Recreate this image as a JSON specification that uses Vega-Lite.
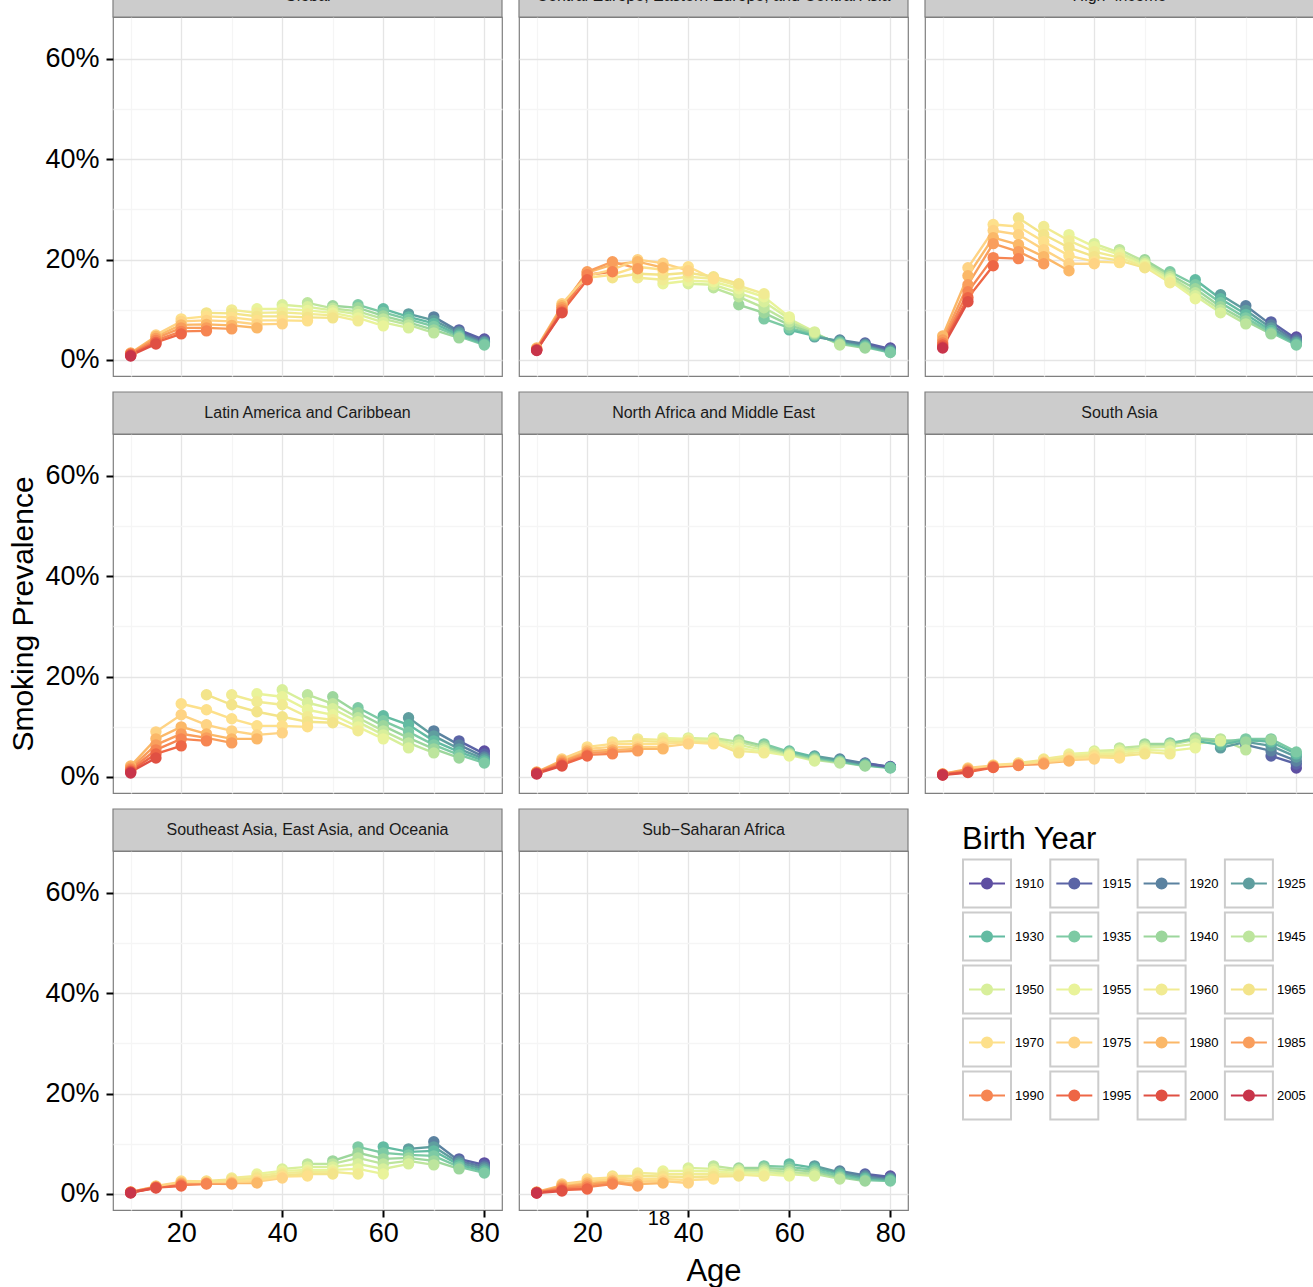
{
"$schema": "https://vega.github.io/schema/vega-lite/v6.json",
"padding": {"left": 8, "top": -27, "right": 0, "bottom": 0},
"background": "white",
"config": {
 "font": "Liberation Sans",
 "view": {"stroke": "#7f7f7f", "strokeWidth": 1.2},
 "axis": {"domain": false, "grid": true, "gridWidth": 1.3, "labelFontSize": 27, "labelColor": "#000", "labelFont": "Liberation Sans", "tickSize": 7, "tickWidth": 2, "titleFontWeight": "normal", "titleColor": "#000", "titleFont": "Liberation Sans", "labelFlush": false, "labelOverlap": false},
 "axisX": {"labelPadding": 3, "titleFontSize": 31, "titlePadding": 10},
 "axisY": {"labelPadding": 7, "titleFontSize": 30, "titlePadding": 6}
},
"data": {"values": [
{"r":1,"b":1980,"a":10,"p":1.4},{"r":1,"b":1985,"a":10,"p":1.3},{"r":1,"b":1990,"a":10,"p":1.2},{"r":1,"b":1995,"a":10,"p":1.1},{"r":1,"b":2000,"a":10,"p":0.9},{"r":1,"b":2005,"a":10,"p":0.8},
{"r":1,"b":1975,"a":15,"p":5.0},{"r":1,"b":1980,"a":15,"p":4.7},{"r":1,"b":1985,"a":15,"p":4.3},{"r":1,"b":1990,"a":15,"p":3.9},{"r":1,"b":1995,"a":15,"p":3.5},{"r":1,"b":2000,"a":15,"p":3.2},
{"r":1,"b":1970,"a":20,"p":8.2},{"r":1,"b":1975,"a":20,"p":7.7},{"r":1,"b":1980,"a":20,"p":7.0},{"r":1,"b":1985,"a":20,"p":6.4},{"r":1,"b":1990,"a":20,"p":5.7},{"r":1,"b":1995,"a":20,"p":5.2},
{"r":1,"b":1965,"a":25,"p":9.4},{"r":1,"b":1970,"a":25,"p":8.7},{"r":1,"b":1975,"a":25,"p":7.9},{"r":1,"b":1980,"a":25,"p":7.1},{"r":1,"b":1985,"a":25,"p":6.4},{"r":1,"b":1990,"a":25,"p":5.8},
{"r":1,"b":1960,"a":30,"p":10.0},{"r":1,"b":1965,"a":30,"p":9.3},{"r":1,"b":1970,"a":30,"p":8.5},{"r":1,"b":1975,"a":30,"p":7.7},{"r":1,"b":1980,"a":30,"p":6.9},{"r":1,"b":1985,"a":30,"p":6.2},
{"r":1,"b":1955,"a":35,"p":10.2},{"r":1,"b":1960,"a":35,"p":9.4},{"r":1,"b":1965,"a":35,"p":8.7},{"r":1,"b":1970,"a":35,"p":7.9},{"r":1,"b":1975,"a":35,"p":7.1},{"r":1,"b":1980,"a":35,"p":6.4},
{"r":1,"b":1950,"a":40,"p":11.0},{"r":1,"b":1955,"a":40,"p":10.2},{"r":1,"b":1960,"a":40,"p":9.5},{"r":1,"b":1965,"a":40,"p":8.7},{"r":1,"b":1970,"a":40,"p":7.9},{"r":1,"b":1975,"a":40,"p":7.2},
{"r":1,"b":1945,"a":45,"p":11.4},{"r":1,"b":1950,"a":45,"p":10.6},{"r":1,"b":1955,"a":45,"p":9.9},{"r":1,"b":1960,"a":45,"p":9.2},{"r":1,"b":1965,"a":45,"p":8.5},{"r":1,"b":1970,"a":45,"p":7.8},
{"r":1,"b":1940,"a":50,"p":10.8},{"r":1,"b":1945,"a":50,"p":10.3},{"r":1,"b":1950,"a":50,"p":9.9},{"r":1,"b":1955,"a":50,"p":9.4},{"r":1,"b":1960,"a":50,"p":8.9},{"r":1,"b":1965,"a":50,"p":8.4},
{"r":1,"b":1935,"a":55,"p":11.0},{"r":1,"b":1940,"a":55,"p":10.4},{"r":1,"b":1945,"a":55,"p":9.7},{"r":1,"b":1950,"a":55,"p":9.1},{"r":1,"b":1955,"a":55,"p":8.4},{"r":1,"b":1960,"a":55,"p":7.8},
{"r":1,"b":1930,"a":60,"p":10.2},{"r":1,"b":1935,"a":60,"p":9.5},{"r":1,"b":1940,"a":60,"p":8.8},{"r":1,"b":1945,"a":60,"p":8.2},{"r":1,"b":1950,"a":60,"p":7.5},{"r":1,"b":1955,"a":60,"p":6.8},
{"r":1,"b":1925,"a":65,"p":9.2},{"r":1,"b":1930,"a":65,"p":8.6},{"r":1,"b":1935,"a":65,"p":8.1},{"r":1,"b":1940,"a":65,"p":7.5},{"r":1,"b":1945,"a":65,"p":7.0},{"r":1,"b":1950,"a":65,"p":6.4},
{"r":1,"b":1920,"a":70,"p":8.6},{"r":1,"b":1925,"a":70,"p":7.9},{"r":1,"b":1930,"a":70,"p":7.3},{"r":1,"b":1935,"a":70,"p":6.7},{"r":1,"b":1940,"a":70,"p":6.0},{"r":1,"b":1945,"a":70,"p":5.4},
{"r":1,"b":1915,"a":75,"p":6.0},{"r":1,"b":1920,"a":75,"p":5.7},{"r":1,"b":1925,"a":75,"p":5.4},{"r":1,"b":1930,"a":75,"p":5.0},{"r":1,"b":1935,"a":75,"p":4.7},{"r":1,"b":1940,"a":75,"p":4.4},
{"r":1,"b":1910,"a":80,"p":4.2},{"r":1,"b":1915,"a":80,"p":4.0},{"r":1,"b":1920,"a":80,"p":3.7},{"r":1,"b":1925,"a":80,"p":3.5},{"r":1,"b":1930,"a":80,"p":3.2},{"r":1,"b":1935,"a":80,"p":3.0},
{"r":2,"b":1980,"a":10,"p":2.4},{"r":2,"b":1985,"a":10,"p":2.2},{"r":2,"b":1990,"a":10,"p":2.1},{"r":2,"b":1995,"a":10,"p":2.0},{"r":2,"b":2000,"a":10,"p":2.0},{"r":2,"b":2005,"a":10,"p":1.9},
{"r":2,"b":1975,"a":15,"p":11.2},{"r":2,"b":1980,"a":15,"p":10.8},{"r":2,"b":1985,"a":15,"p":10.4},{"r":2,"b":1990,"a":15,"p":10.0},{"r":2,"b":1995,"a":15,"p":9.6},{"r":2,"b":2000,"a":15,"p":9.4},
{"r":2,"b":1970,"a":20,"p":16.4},{"r":2,"b":1975,"a":20,"p":16.8},{"r":2,"b":1980,"a":20,"p":17.4},{"r":2,"b":1985,"a":20,"p":17.6},{"r":2,"b":1990,"a":20,"p":17.0},{"r":2,"b":1995,"a":20,"p":16.0},
{"r":2,"b":1965,"a":25,"p":16.4},{"r":2,"b":1970,"a":25,"p":17.0},{"r":2,"b":1975,"a":25,"p":18.0},{"r":2,"b":1980,"a":25,"p":19.0},{"r":2,"b":1985,"a":25,"p":19.6},{"r":2,"b":1990,"a":25,"p":17.6},
{"r":2,"b":1960,"a":30,"p":16.4},{"r":2,"b":1965,"a":30,"p":17.2},{"r":2,"b":1970,"a":30,"p":18.6},{"r":2,"b":1975,"a":30,"p":20.0},{"r":2,"b":1980,"a":30,"p":19.6},{"r":2,"b":1985,"a":30,"p":18.2},
{"r":2,"b":1955,"a":35,"p":15.2},{"r":2,"b":1960,"a":35,"p":16.0},{"r":2,"b":1965,"a":35,"p":17.0},{"r":2,"b":1970,"a":35,"p":18.0},{"r":2,"b":1975,"a":35,"p":19.3},{"r":2,"b":1980,"a":35,"p":18.4},
{"r":2,"b":1950,"a":40,"p":15.2},{"r":2,"b":1955,"a":40,"p":15.8},{"r":2,"b":1960,"a":40,"p":16.6},{"r":2,"b":1965,"a":40,"p":17.4},{"r":2,"b":1970,"a":40,"p":18.6},{"r":2,"b":1975,"a":40,"p":17.8},
{"r":2,"b":1945,"a":45,"p":14.4},{"r":2,"b":1950,"a":45,"p":15.0},{"r":2,"b":1955,"a":45,"p":15.6},{"r":2,"b":1960,"a":45,"p":16.2},{"r":2,"b":1965,"a":45,"p":16.6},{"r":2,"b":1970,"a":45,"p":16.2},
{"r":2,"b":1940,"a":50,"p":11.0},{"r":2,"b":1945,"a":50,"p":12.6},{"r":2,"b":1950,"a":50,"p":13.4},{"r":2,"b":1955,"a":50,"p":14.2},{"r":2,"b":1960,"a":50,"p":14.8},{"r":2,"b":1965,"a":50,"p":15.2},
{"r":2,"b":1935,"a":55,"p":8.2},{"r":2,"b":1940,"a":55,"p":9.4},{"r":2,"b":1945,"a":55,"p":10.4},{"r":2,"b":1950,"a":55,"p":11.6},{"r":2,"b":1955,"a":55,"p":12.6},{"r":2,"b":1960,"a":55,"p":13.2},
{"r":2,"b":1930,"a":60,"p":6.0},{"r":2,"b":1935,"a":60,"p":6.4},{"r":2,"b":1940,"a":60,"p":7.0},{"r":2,"b":1945,"a":60,"p":7.6},{"r":2,"b":1950,"a":60,"p":8.2},{"r":2,"b":1955,"a":60,"p":8.6},
{"r":2,"b":1925,"a":65,"p":4.6},{"r":2,"b":1930,"a":65,"p":4.8},{"r":2,"b":1935,"a":65,"p":5.0},{"r":2,"b":1940,"a":65,"p":5.2},{"r":2,"b":1945,"a":65,"p":5.4},{"r":2,"b":1950,"a":65,"p":5.6},
{"r":2,"b":1920,"a":70,"p":4.0},{"r":2,"b":1925,"a":70,"p":3.8},{"r":2,"b":1930,"a":70,"p":3.6},{"r":2,"b":1935,"a":70,"p":3.4},{"r":2,"b":1940,"a":70,"p":3.2},{"r":2,"b":1945,"a":70,"p":3.0},
{"r":2,"b":1915,"a":75,"p":3.4},{"r":2,"b":1920,"a":75,"p":3.2},{"r":2,"b":1925,"a":75,"p":3.0},{"r":2,"b":1930,"a":75,"p":2.8},{"r":2,"b":1935,"a":75,"p":2.6},{"r":2,"b":1940,"a":75,"p":2.4},
{"r":2,"b":1910,"a":80,"p":2.4},{"r":2,"b":1915,"a":80,"p":2.2},{"r":2,"b":1920,"a":80,"p":2.0},{"r":2,"b":1925,"a":80,"p":1.8},{"r":2,"b":1930,"a":80,"p":1.6},{"r":2,"b":1935,"a":80,"p":1.5},
{"r":3,"b":1980,"a":10,"p":4.8},{"r":3,"b":1985,"a":10,"p":4.0},{"r":3,"b":1990,"a":10,"p":3.4},{"r":3,"b":1995,"a":10,"p":3.0},{"r":3,"b":2000,"a":10,"p":2.6},{"r":3,"b":2005,"a":10,"p":2.4},
{"r":3,"b":1975,"a":15,"p":18.4},{"r":3,"b":1980,"a":15,"p":16.8},{"r":3,"b":1985,"a":15,"p":15.0},{"r":3,"b":1990,"a":15,"p":13.6},{"r":3,"b":1995,"a":15,"p":12.4},{"r":3,"b":2000,"a":15,"p":11.6},
{"r":3,"b":1970,"a":20,"p":27.0},{"r":3,"b":1975,"a":20,"p":25.8},{"r":3,"b":1980,"a":20,"p":24.4},{"r":3,"b":1985,"a":20,"p":23.2},{"r":3,"b":1990,"a":20,"p":20.4},{"r":3,"b":1995,"a":20,"p":18.8},
{"r":3,"b":1965,"a":25,"p":28.3},{"r":3,"b":1970,"a":25,"p":26.6},{"r":3,"b":1975,"a":25,"p":25.0},{"r":3,"b":1980,"a":25,"p":23.0},{"r":3,"b":1985,"a":25,"p":21.6},{"r":3,"b":1990,"a":25,"p":20.2},
{"r":3,"b":1960,"a":30,"p":26.6},{"r":3,"b":1965,"a":30,"p":25.0},{"r":3,"b":1970,"a":30,"p":23.6},{"r":3,"b":1975,"a":30,"p":22.0},{"r":3,"b":1980,"a":30,"p":20.6},{"r":3,"b":1985,"a":30,"p":19.2},
{"r":3,"b":1955,"a":35,"p":25.0},{"r":3,"b":1960,"a":35,"p":23.8},{"r":3,"b":1965,"a":35,"p":22.4},{"r":3,"b":1970,"a":35,"p":20.8},{"r":3,"b":1975,"a":35,"p":19.2},{"r":3,"b":1980,"a":35,"p":17.8},
{"r":3,"b":1950,"a":40,"p":23.2},{"r":3,"b":1955,"a":40,"p":22.6},{"r":3,"b":1960,"a":40,"p":21.6},{"r":3,"b":1965,"a":40,"p":20.6},{"r":3,"b":1970,"a":40,"p":19.6},{"r":3,"b":1975,"a":40,"p":19.2},
{"r":3,"b":1945,"a":45,"p":22.0},{"r":3,"b":1950,"a":45,"p":21.4},{"r":3,"b":1955,"a":45,"p":21.0},{"r":3,"b":1960,"a":45,"p":20.4},{"r":3,"b":1965,"a":45,"p":19.8},{"r":3,"b":1970,"a":45,"p":19.4},
{"r":3,"b":1940,"a":50,"p":20.0},{"r":3,"b":1945,"a":50,"p":19.6},{"r":3,"b":1950,"a":50,"p":19.2},{"r":3,"b":1955,"a":50,"p":18.9},{"r":3,"b":1960,"a":50,"p":18.6},{"r":3,"b":1965,"a":50,"p":18.4},
{"r":3,"b":1935,"a":55,"p":17.6},{"r":3,"b":1940,"a":55,"p":17.0},{"r":3,"b":1945,"a":55,"p":16.6},{"r":3,"b":1950,"a":55,"p":16.2},{"r":3,"b":1955,"a":55,"p":15.8},{"r":3,"b":1960,"a":55,"p":15.4},
{"r":3,"b":1930,"a":60,"p":16.0},{"r":3,"b":1935,"a":60,"p":15.0},{"r":3,"b":1940,"a":60,"p":14.2},{"r":3,"b":1945,"a":60,"p":13.4},{"r":3,"b":1950,"a":60,"p":12.8},{"r":3,"b":1955,"a":60,"p":12.2},
{"r":3,"b":1925,"a":65,"p":13.0},{"r":3,"b":1930,"a":65,"p":12.2},{"r":3,"b":1935,"a":65,"p":11.4},{"r":3,"b":1940,"a":65,"p":10.6},{"r":3,"b":1945,"a":65,"p":10.0},{"r":3,"b":1950,"a":65,"p":9.4},
{"r":3,"b":1920,"a":70,"p":10.8},{"r":3,"b":1925,"a":70,"p":9.9},{"r":3,"b":1930,"a":70,"p":9.1},{"r":3,"b":1935,"a":70,"p":8.4},{"r":3,"b":1940,"a":70,"p":7.8},{"r":3,"b":1945,"a":70,"p":7.2},
{"r":3,"b":1915,"a":75,"p":7.6},{"r":3,"b":1920,"a":75,"p":7.0},{"r":3,"b":1925,"a":75,"p":6.4},{"r":3,"b":1930,"a":75,"p":5.9},{"r":3,"b":1935,"a":75,"p":5.5},{"r":3,"b":1940,"a":75,"p":5.2},
{"r":3,"b":1910,"a":80,"p":4.6},{"r":3,"b":1915,"a":80,"p":4.2},{"r":3,"b":1920,"a":80,"p":3.8},{"r":3,"b":1925,"a":80,"p":3.5},{"r":3,"b":1930,"a":80,"p":3.2},{"r":3,"b":1935,"a":80,"p":3.0},
{"r":4,"b":1980,"a":10,"p":2.2},{"r":4,"b":1985,"a":10,"p":1.8},{"r":4,"b":1990,"a":10,"p":1.5},{"r":4,"b":1995,"a":10,"p":1.2},{"r":4,"b":2000,"a":10,"p":1.0},{"r":4,"b":2005,"a":10,"p":0.8},
{"r":4,"b":1975,"a":15,"p":9.0},{"r":4,"b":1980,"a":15,"p":7.6},{"r":4,"b":1985,"a":15,"p":6.4},{"r":4,"b":1990,"a":15,"p":5.4},{"r":4,"b":1995,"a":15,"p":4.6},{"r":4,"b":2000,"a":15,"p":3.8},
{"r":4,"b":1970,"a":20,"p":14.6},{"r":4,"b":1975,"a":20,"p":12.4},{"r":4,"b":1980,"a":20,"p":10.0},{"r":4,"b":1985,"a":20,"p":8.6},{"r":4,"b":1990,"a":20,"p":7.6},{"r":4,"b":1995,"a":20,"p":6.2},
{"r":4,"b":1965,"a":25,"p":16.4},{"r":4,"b":1970,"a":25,"p":13.4},{"r":4,"b":1975,"a":25,"p":10.4},{"r":4,"b":1980,"a":25,"p":8.6},{"r":4,"b":1985,"a":25,"p":7.8},{"r":4,"b":1990,"a":25,"p":7.2},
{"r":4,"b":1960,"a":30,"p":16.4},{"r":4,"b":1965,"a":30,"p":14.4},{"r":4,"b":1970,"a":30,"p":11.6},{"r":4,"b":1975,"a":30,"p":9.2},{"r":4,"b":1980,"a":30,"p":7.6},{"r":4,"b":1985,"a":30,"p":6.8},
{"r":4,"b":1955,"a":35,"p":16.6},{"r":4,"b":1960,"a":35,"p":15.0},{"r":4,"b":1965,"a":35,"p":13.0},{"r":4,"b":1970,"a":35,"p":10.2},{"r":4,"b":1975,"a":35,"p":8.4},{"r":4,"b":1980,"a":35,"p":7.6},
{"r":4,"b":1950,"a":40,"p":17.4},{"r":4,"b":1955,"a":40,"p":16.0},{"r":4,"b":1960,"a":40,"p":14.4},{"r":4,"b":1965,"a":40,"p":12.0},{"r":4,"b":1970,"a":40,"p":10.2},{"r":4,"b":1975,"a":40,"p":8.8},
{"r":4,"b":1945,"a":45,"p":16.4},{"r":4,"b":1950,"a":45,"p":14.8},{"r":4,"b":1955,"a":45,"p":13.4},{"r":4,"b":1960,"a":45,"p":12.0},{"r":4,"b":1965,"a":45,"p":11.0},{"r":4,"b":1970,"a":45,"p":10.0},
{"r":4,"b":1940,"a":50,"p":16.0},{"r":4,"b":1945,"a":50,"p":14.6},{"r":4,"b":1950,"a":50,"p":13.6},{"r":4,"b":1955,"a":50,"p":12.4},{"r":4,"b":1960,"a":50,"p":11.4},{"r":4,"b":1965,"a":50,"p":10.8},
{"r":4,"b":1935,"a":55,"p":13.8},{"r":4,"b":1940,"a":55,"p":12.8},{"r":4,"b":1945,"a":55,"p":11.8},{"r":4,"b":1950,"a":55,"p":11.0},{"r":4,"b":1955,"a":55,"p":10.0},{"r":4,"b":1960,"a":55,"p":9.2},
{"r":4,"b":1930,"a":60,"p":12.2},{"r":4,"b":1935,"a":60,"p":11.2},{"r":4,"b":1940,"a":60,"p":10.2},{"r":4,"b":1945,"a":60,"p":9.2},{"r":4,"b":1950,"a":60,"p":8.4},{"r":4,"b":1955,"a":60,"p":7.6},
{"r":4,"b":1925,"a":65,"p":11.8},{"r":4,"b":1930,"a":65,"p":10.4},{"r":4,"b":1935,"a":65,"p":9.0},{"r":4,"b":1940,"a":65,"p":7.8},{"r":4,"b":1945,"a":65,"p":6.8},{"r":4,"b":1950,"a":65,"p":5.8},
{"r":4,"b":1920,"a":70,"p":9.2},{"r":4,"b":1925,"a":70,"p":8.2},{"r":4,"b":1930,"a":70,"p":7.2},{"r":4,"b":1935,"a":70,"p":6.4},{"r":4,"b":1940,"a":70,"p":5.6},{"r":4,"b":1945,"a":70,"p":4.8},
{"r":4,"b":1915,"a":75,"p":7.2},{"r":4,"b":1920,"a":75,"p":6.4},{"r":4,"b":1925,"a":75,"p":5.6},{"r":4,"b":1930,"a":75,"p":5.0},{"r":4,"b":1935,"a":75,"p":4.4},{"r":4,"b":1940,"a":75,"p":3.8},
{"r":4,"b":1910,"a":80,"p":5.2},{"r":4,"b":1915,"a":80,"p":4.6},{"r":4,"b":1920,"a":80,"p":4.0},{"r":4,"b":1925,"a":80,"p":3.6},{"r":4,"b":1930,"a":80,"p":3.2},{"r":4,"b":1935,"a":80,"p":2.8},
{"r":5,"b":1980,"a":10,"p":1.0},{"r":5,"b":1985,"a":10,"p":0.9},{"r":5,"b":1990,"a":10,"p":0.8},{"r":5,"b":1995,"a":10,"p":0.8},{"r":5,"b":2000,"a":10,"p":0.7},{"r":5,"b":2005,"a":10,"p":0.6},
{"r":5,"b":1975,"a":15,"p":3.6},{"r":5,"b":1980,"a":15,"p":3.3},{"r":5,"b":1985,"a":15,"p":3.0},{"r":5,"b":1990,"a":15,"p":2.7},{"r":5,"b":1995,"a":15,"p":2.4},{"r":5,"b":2000,"a":15,"p":2.2},
{"r":5,"b":1970,"a":20,"p":6.0},{"r":5,"b":1975,"a":20,"p":5.6},{"r":5,"b":1980,"a":20,"p":5.2},{"r":5,"b":1985,"a":20,"p":4.8},{"r":5,"b":1990,"a":20,"p":4.4},{"r":5,"b":1995,"a":20,"p":4.2},
{"r":5,"b":1965,"a":25,"p":7.0},{"r":5,"b":1970,"a":25,"p":6.6},{"r":5,"b":1975,"a":25,"p":6.0},{"r":5,"b":1980,"a":25,"p":5.4},{"r":5,"b":1985,"a":25,"p":5.0},{"r":5,"b":1990,"a":25,"p":4.6},
{"r":5,"b":1960,"a":30,"p":7.6},{"r":5,"b":1965,"a":30,"p":7.2},{"r":5,"b":1970,"a":30,"p":6.6},{"r":5,"b":1975,"a":30,"p":6.0},{"r":5,"b":1980,"a":30,"p":5.6},{"r":5,"b":1985,"a":30,"p":5.2},
{"r":5,"b":1955,"a":35,"p":7.8},{"r":5,"b":1960,"a":35,"p":7.4},{"r":5,"b":1965,"a":35,"p":7.0},{"r":5,"b":1970,"a":35,"p":6.6},{"r":5,"b":1975,"a":35,"p":6.0},{"r":5,"b":1980,"a":35,"p":5.6},
{"r":5,"b":1950,"a":40,"p":7.8},{"r":5,"b":1955,"a":40,"p":7.6},{"r":5,"b":1960,"a":40,"p":7.4},{"r":5,"b":1965,"a":40,"p":7.2},{"r":5,"b":1970,"a":40,"p":6.9},{"r":5,"b":1975,"a":40,"p":6.6},
{"r":5,"b":1945,"a":45,"p":7.8},{"r":5,"b":1950,"a":45,"p":7.6},{"r":5,"b":1955,"a":45,"p":7.4},{"r":5,"b":1960,"a":45,"p":7.2},{"r":5,"b":1965,"a":45,"p":6.9},{"r":5,"b":1970,"a":45,"p":6.6},
{"r":5,"b":1940,"a":50,"p":7.4},{"r":5,"b":1945,"a":50,"p":7.0},{"r":5,"b":1950,"a":50,"p":6.4},{"r":5,"b":1955,"a":50,"p":5.8},{"r":5,"b":1960,"a":50,"p":5.2},{"r":5,"b":1965,"a":50,"p":4.8},
{"r":5,"b":1935,"a":55,"p":6.6},{"r":5,"b":1940,"a":55,"p":6.2},{"r":5,"b":1945,"a":55,"p":5.8},{"r":5,"b":1950,"a":55,"p":5.4},{"r":5,"b":1955,"a":55,"p":5.0},{"r":5,"b":1960,"a":55,"p":4.8},
{"r":5,"b":1930,"a":60,"p":5.2},{"r":5,"b":1935,"a":60,"p":5.0},{"r":5,"b":1940,"a":60,"p":4.8},{"r":5,"b":1945,"a":60,"p":4.6},{"r":5,"b":1950,"a":60,"p":4.4},{"r":5,"b":1955,"a":60,"p":4.2},
{"r":5,"b":1925,"a":65,"p":4.2},{"r":5,"b":1930,"a":65,"p":4.0},{"r":5,"b":1935,"a":65,"p":3.8},{"r":5,"b":1940,"a":65,"p":3.6},{"r":5,"b":1945,"a":65,"p":3.4},{"r":5,"b":1950,"a":65,"p":3.2},
{"r":5,"b":1920,"a":70,"p":3.6},{"r":5,"b":1925,"a":70,"p":3.4},{"r":5,"b":1930,"a":70,"p":3.2},{"r":5,"b":1935,"a":70,"p":3.1},{"r":5,"b":1940,"a":70,"p":3.0},{"r":5,"b":1945,"a":70,"p":2.8},
{"r":5,"b":1915,"a":75,"p":2.8},{"r":5,"b":1920,"a":75,"p":2.7},{"r":5,"b":1925,"a":75,"p":2.6},{"r":5,"b":1930,"a":75,"p":2.4},{"r":5,"b":1935,"a":75,"p":2.3},{"r":5,"b":1940,"a":75,"p":2.2},
{"r":5,"b":1910,"a":80,"p":2.1},{"r":5,"b":1915,"a":80,"p":2.0},{"r":5,"b":1920,"a":80,"p":2.0},{"r":5,"b":1925,"a":80,"p":1.9},{"r":5,"b":1930,"a":80,"p":1.9},{"r":5,"b":1935,"a":80,"p":1.8},
{"r":6,"b":1980,"a":10,"p":0.6},{"r":6,"b":1985,"a":10,"p":0.6},{"r":6,"b":1990,"a":10,"p":0.5},{"r":6,"b":1995,"a":10,"p":0.5},{"r":6,"b":2000,"a":10,"p":0.4},{"r":6,"b":2005,"a":10,"p":0.4},
{"r":6,"b":1975,"a":15,"p":1.8},{"r":6,"b":1980,"a":15,"p":1.6},{"r":6,"b":1985,"a":15,"p":1.4},{"r":6,"b":1990,"a":15,"p":1.2},{"r":6,"b":1995,"a":15,"p":1.0},{"r":6,"b":2000,"a":15,"p":0.9},
{"r":6,"b":1970,"a":20,"p":2.4},{"r":6,"b":1975,"a":20,"p":2.3},{"r":6,"b":1980,"a":20,"p":2.2},{"r":6,"b":1985,"a":20,"p":2.1},{"r":6,"b":1990,"a":20,"p":2.0},{"r":6,"b":1995,"a":20,"p":1.9},
{"r":6,"b":1965,"a":25,"p":2.8},{"r":6,"b":1970,"a":25,"p":2.7},{"r":6,"b":1975,"a":25,"p":2.6},{"r":6,"b":1980,"a":25,"p":2.5},{"r":6,"b":1985,"a":25,"p":2.4},{"r":6,"b":1990,"a":25,"p":2.3},
{"r":6,"b":1960,"a":30,"p":3.6},{"r":6,"b":1965,"a":30,"p":3.4},{"r":6,"b":1970,"a":30,"p":3.2},{"r":6,"b":1975,"a":30,"p":3.0},{"r":6,"b":1980,"a":30,"p":2.8},{"r":6,"b":1985,"a":30,"p":2.6},
{"r":6,"b":1955,"a":35,"p":4.6},{"r":6,"b":1960,"a":35,"p":4.3},{"r":6,"b":1965,"a":35,"p":4.0},{"r":6,"b":1970,"a":35,"p":3.7},{"r":6,"b":1975,"a":35,"p":3.4},{"r":6,"b":1980,"a":35,"p":3.2},
{"r":6,"b":1950,"a":40,"p":5.2},{"r":6,"b":1955,"a":40,"p":4.9},{"r":6,"b":1960,"a":40,"p":4.6},{"r":6,"b":1965,"a":40,"p":4.3},{"r":6,"b":1970,"a":40,"p":4.0},{"r":6,"b":1975,"a":40,"p":3.6},
{"r":6,"b":1945,"a":45,"p":5.8},{"r":6,"b":1950,"a":45,"p":5.4},{"r":6,"b":1955,"a":45,"p":5.0},{"r":6,"b":1960,"a":45,"p":4.6},{"r":6,"b":1965,"a":45,"p":4.2},{"r":6,"b":1970,"a":45,"p":3.8},
{"r":6,"b":1940,"a":50,"p":6.6},{"r":6,"b":1945,"a":50,"p":6.2},{"r":6,"b":1950,"a":50,"p":5.8},{"r":6,"b":1955,"a":50,"p":5.4},{"r":6,"b":1960,"a":50,"p":5.0},{"r":6,"b":1965,"a":50,"p":4.6},
{"r":6,"b":1935,"a":55,"p":6.8},{"r":6,"b":1940,"a":55,"p":6.6},{"r":6,"b":1945,"a":55,"p":6.4},{"r":6,"b":1950,"a":55,"p":6.0},{"r":6,"b":1955,"a":55,"p":5.2},{"r":6,"b":1960,"a":55,"p":4.6},
{"r":6,"b":1930,"a":60,"p":7.2},{"r":6,"b":1935,"a":60,"p":7.6},{"r":6,"b":1940,"a":60,"p":7.8},{"r":6,"b":1945,"a":60,"p":7.4},{"r":6,"b":1950,"a":60,"p":6.6},{"r":6,"b":1955,"a":60,"p":5.8},
{"r":6,"b":1925,"a":65,"p":5.8},{"r":6,"b":1930,"a":65,"p":6.4},{"r":6,"b":1935,"a":65,"p":7.0},{"r":6,"b":1940,"a":65,"p":7.4},{"r":6,"b":1945,"a":65,"p":7.6},{"r":6,"b":1950,"a":65,"p":7.2},
{"r":6,"b":1920,"a":70,"p":6.4},{"r":6,"b":1925,"a":70,"p":7.0},{"r":6,"b":1930,"a":70,"p":7.4},{"r":6,"b":1935,"a":70,"p":7.6},{"r":6,"b":1940,"a":70,"p":7.0},{"r":6,"b":1945,"a":70,"p":5.4},
{"r":6,"b":1915,"a":75,"p":4.2},{"r":6,"b":1920,"a":75,"p":5.2},{"r":6,"b":1925,"a":75,"p":6.2},{"r":6,"b":1930,"a":75,"p":7.0},{"r":6,"b":1935,"a":75,"p":7.6},{"r":6,"b":1940,"a":75,"p":7.4},
{"r":6,"b":1910,"a":80,"p":1.8},{"r":6,"b":1915,"a":80,"p":2.6},{"r":6,"b":1920,"a":80,"p":3.2},{"r":6,"b":1925,"a":80,"p":4.0},{"r":6,"b":1930,"a":80,"p":4.6},{"r":6,"b":1935,"a":80,"p":5.0},
{"r":7,"b":1980,"a":10,"p":0.4},{"r":7,"b":1985,"a":10,"p":0.4},{"r":7,"b":1990,"a":10,"p":0.3},{"r":7,"b":1995,"a":10,"p":0.3},{"r":7,"b":2000,"a":10,"p":0.3},{"r":7,"b":2005,"a":10,"p":0.2},
{"r":7,"b":1975,"a":15,"p":1.6},{"r":7,"b":1980,"a":15,"p":1.5},{"r":7,"b":1985,"a":15,"p":1.4},{"r":7,"b":1990,"a":15,"p":1.3},{"r":7,"b":1995,"a":15,"p":1.3},{"r":7,"b":2000,"a":15,"p":1.2},
{"r":7,"b":1970,"a":20,"p":2.6},{"r":7,"b":1975,"a":20,"p":2.4},{"r":7,"b":1980,"a":20,"p":2.2},{"r":7,"b":1985,"a":20,"p":2.0},{"r":7,"b":1990,"a":20,"p":1.8},{"r":7,"b":1995,"a":20,"p":1.6},
{"r":7,"b":1965,"a":25,"p":2.6},{"r":7,"b":1970,"a":25,"p":2.5},{"r":7,"b":1975,"a":25,"p":2.4},{"r":7,"b":1980,"a":25,"p":2.2},{"r":7,"b":1985,"a":25,"p":2.1},{"r":7,"b":1990,"a":25,"p":2.0},
{"r":7,"b":1960,"a":30,"p":3.2},{"r":7,"b":1965,"a":30,"p":2.9},{"r":7,"b":1970,"a":30,"p":2.6},{"r":7,"b":1975,"a":30,"p":2.4},{"r":7,"b":1980,"a":30,"p":2.2},{"r":7,"b":1985,"a":30,"p":2.0},
{"r":7,"b":1955,"a":35,"p":4.0},{"r":7,"b":1960,"a":35,"p":3.6},{"r":7,"b":1965,"a":35,"p":3.2},{"r":7,"b":1970,"a":35,"p":2.8},{"r":7,"b":1975,"a":35,"p":2.5},{"r":7,"b":1980,"a":35,"p":2.2},
{"r":7,"b":1950,"a":40,"p":5.0},{"r":7,"b":1955,"a":40,"p":4.6},{"r":7,"b":1960,"a":40,"p":4.2},{"r":7,"b":1965,"a":40,"p":3.8},{"r":7,"b":1970,"a":40,"p":3.5},{"r":7,"b":1975,"a":40,"p":3.2},
{"r":7,"b":1945,"a":45,"p":6.0},{"r":7,"b":1950,"a":45,"p":5.4},{"r":7,"b":1955,"a":45,"p":4.8},{"r":7,"b":1960,"a":45,"p":4.4},{"r":7,"b":1965,"a":45,"p":4.0},{"r":7,"b":1970,"a":45,"p":3.6},
{"r":7,"b":1940,"a":50,"p":6.6},{"r":7,"b":1945,"a":50,"p":6.0},{"r":7,"b":1950,"a":50,"p":5.4},{"r":7,"b":1955,"a":50,"p":4.8},{"r":7,"b":1960,"a":50,"p":4.4},{"r":7,"b":1965,"a":50,"p":4.0},
{"r":7,"b":1935,"a":55,"p":9.4},{"r":7,"b":1940,"a":55,"p":8.2},{"r":7,"b":1945,"a":55,"p":7.2},{"r":7,"b":1950,"a":55,"p":6.0},{"r":7,"b":1955,"a":55,"p":5.0},{"r":7,"b":1960,"a":55,"p":4.0},
{"r":7,"b":1930,"a":60,"p":9.4},{"r":7,"b":1935,"a":60,"p":8.2},{"r":7,"b":1940,"a":60,"p":7.0},{"r":7,"b":1945,"a":60,"p":6.0},{"r":7,"b":1950,"a":60,"p":5.0},{"r":7,"b":1955,"a":60,"p":4.0},
{"r":7,"b":1925,"a":65,"p":9.0},{"r":7,"b":1930,"a":65,"p":8.4},{"r":7,"b":1935,"a":65,"p":7.8},{"r":7,"b":1940,"a":65,"p":7.2},{"r":7,"b":1945,"a":65,"p":6.6},{"r":7,"b":1950,"a":65,"p":6.0},
{"r":7,"b":1920,"a":70,"p":10.4},{"r":7,"b":1925,"a":70,"p":9.4},{"r":7,"b":1930,"a":70,"p":8.6},{"r":7,"b":1935,"a":70,"p":7.6},{"r":7,"b":1940,"a":70,"p":6.6},{"r":7,"b":1945,"a":70,"p":5.8},
{"r":7,"b":1915,"a":75,"p":7.0},{"r":7,"b":1920,"a":75,"p":6.6},{"r":7,"b":1925,"a":75,"p":6.2},{"r":7,"b":1930,"a":75,"p":5.8},{"r":7,"b":1935,"a":75,"p":5.4},{"r":7,"b":1940,"a":75,"p":5.0},
{"r":7,"b":1910,"a":80,"p":6.2},{"r":7,"b":1915,"a":80,"p":5.8},{"r":7,"b":1920,"a":80,"p":5.4},{"r":7,"b":1925,"a":80,"p":5.0},{"r":7,"b":1930,"a":80,"p":4.6},{"r":7,"b":1935,"a":80,"p":4.2},
{"r":8,"b":1980,"a":10,"p":0.4},{"r":8,"b":1985,"a":10,"p":0.3},{"r":8,"b":1990,"a":10,"p":0.3},{"r":8,"b":1995,"a":10,"p":0.3},{"r":8,"b":2000,"a":10,"p":0.2},{"r":8,"b":2005,"a":10,"p":0.2},
{"r":8,"b":1975,"a":15,"p":2.0},{"r":8,"b":1980,"a":15,"p":1.7},{"r":8,"b":1985,"a":15,"p":1.4},{"r":8,"b":1990,"a":15,"p":1.1},{"r":8,"b":1995,"a":15,"p":0.8},{"r":8,"b":2000,"a":15,"p":0.6},
{"r":8,"b":1970,"a":20,"p":3.0},{"r":8,"b":1975,"a":20,"p":2.6},{"r":8,"b":1980,"a":20,"p":2.2},{"r":8,"b":1985,"a":20,"p":1.8},{"r":8,"b":1990,"a":20,"p":1.4},{"r":8,"b":1995,"a":20,"p":1.0},
{"r":8,"b":1965,"a":25,"p":3.6},{"r":8,"b":1970,"a":25,"p":3.3},{"r":8,"b":1975,"a":25,"p":3.0},{"r":8,"b":1980,"a":25,"p":2.6},{"r":8,"b":1985,"a":25,"p":2.3},{"r":8,"b":1990,"a":25,"p":2.0},
{"r":8,"b":1960,"a":30,"p":4.2},{"r":8,"b":1965,"a":30,"p":3.6},{"r":8,"b":1970,"a":30,"p":3.0},{"r":8,"b":1975,"a":30,"p":2.5},{"r":8,"b":1980,"a":30,"p":2.0},{"r":8,"b":1985,"a":30,"p":1.6},
{"r":8,"b":1955,"a":35,"p":4.6},{"r":8,"b":1960,"a":35,"p":4.0},{"r":8,"b":1965,"a":35,"p":3.5},{"r":8,"b":1970,"a":35,"p":3.0},{"r":8,"b":1975,"a":35,"p":2.6},{"r":8,"b":1980,"a":35,"p":2.2},
{"r":8,"b":1950,"a":40,"p":5.2},{"r":8,"b":1955,"a":40,"p":4.6},{"r":8,"b":1960,"a":40,"p":4.0},{"r":8,"b":1965,"a":40,"p":3.4},{"r":8,"b":1970,"a":40,"p":2.8},{"r":8,"b":1975,"a":40,"p":2.2},
{"r":8,"b":1945,"a":45,"p":5.6},{"r":8,"b":1950,"a":45,"p":5.0},{"r":8,"b":1955,"a":45,"p":4.5},{"r":8,"b":1960,"a":45,"p":4.0},{"r":8,"b":1965,"a":45,"p":3.5},{"r":8,"b":1970,"a":45,"p":3.0},
{"r":8,"b":1940,"a":50,"p":5.2},{"r":8,"b":1945,"a":50,"p":4.9},{"r":8,"b":1950,"a":50,"p":4.6},{"r":8,"b":1955,"a":50,"p":4.2},{"r":8,"b":1960,"a":50,"p":3.9},{"r":8,"b":1965,"a":50,"p":3.6},
{"r":8,"b":1935,"a":55,"p":5.6},{"r":8,"b":1940,"a":55,"p":5.2},{"r":8,"b":1945,"a":55,"p":4.8},{"r":8,"b":1950,"a":55,"p":4.4},{"r":8,"b":1955,"a":55,"p":4.0},{"r":8,"b":1960,"a":55,"p":3.6},
{"r":8,"b":1930,"a":60,"p":6.0},{"r":8,"b":1935,"a":60,"p":5.4},{"r":8,"b":1940,"a":60,"p":4.9},{"r":8,"b":1945,"a":60,"p":4.4},{"r":8,"b":1950,"a":60,"p":4.0},{"r":8,"b":1955,"a":60,"p":3.6},
{"r":8,"b":1925,"a":65,"p":5.6},{"r":8,"b":1930,"a":65,"p":5.2},{"r":8,"b":1935,"a":65,"p":4.8},{"r":8,"b":1940,"a":65,"p":4.4},{"r":8,"b":1945,"a":65,"p":4.0},{"r":8,"b":1950,"a":65,"p":3.6},
{"r":8,"b":1920,"a":70,"p":4.6},{"r":8,"b":1925,"a":70,"p":4.3},{"r":8,"b":1930,"a":70,"p":4.0},{"r":8,"b":1935,"a":70,"p":3.6},{"r":8,"b":1940,"a":70,"p":3.3},{"r":8,"b":1945,"a":70,"p":3.0},
{"r":8,"b":1915,"a":75,"p":4.0},{"r":8,"b":1920,"a":75,"p":3.7},{"r":8,"b":1925,"a":75,"p":3.4},{"r":8,"b":1930,"a":75,"p":3.1},{"r":8,"b":1935,"a":75,"p":2.8},{"r":8,"b":1940,"a":75,"p":2.6},
{"r":8,"b":1910,"a":80,"p":3.6},{"r":8,"b":1915,"a":80,"p":3.4},{"r":8,"b":1920,"a":80,"p":3.2},{"r":8,"b":1925,"a":80,"p":3.0},{"r":8,"b":1930,"a":80,"p":2.8},{"r":8,"b":1935,"a":80,"p":2.6}
]},
"spacing": {"row": 13, "column": 13},
"columns": 3,
"concat": [
{"width": 389, "height": 359, "layer": [
 {"data": {"values": [{"title": "Global"}]}, "mark": {"type": "rect", "fill": "#cccccc", "stroke": "#7f7f7f", "strokeWidth": 1.2}, "encoding": {"x": {"datum": 6.5, "type": "quantitative"}, "x2": {"datum": 83.5}, "y": {"datum": 68.37, "type": "quantitative"}, "y2": {"datum": 76.742}}},
 {"data": {"values": [{"title": "Global"}]}, "mark": {"type": "text", "fontSize": 16, "color": "#1a1a1a", "baseline": "middle"}, "encoding": {"x": {"datum": 45, "type": "quantitative"}, "y": {"datum": 72.556, "type": "quantitative"}, "text": {"field": "title"}}},
 {"transform": [{"filter": "datum.r == 1"}], "layer": [
  {"mark": {"type": "line", "strokeWidth": 2.4}, "encoding": {
   "x": {"field": "a", "type": "quantitative", "scale": {"domain": [6.5, 83.5], "nice": false, "zero": false}, "axis": {"values": [10,20,30,40,50,60,70,80], "labels": false, "ticks": false, "title": null, "gridColor": {"condition": {"test": "datum.value % 20 == 0", "value": "#e5e5e5"}, "value": "#f5f5f5"}}},
   "y": {"field": "p", "type": "quantitative", "scale": {"domain": [-3.19, 68.37], "nice": false, "zero": false}, "axis": {"values": [0,10,20,30,40,50,60], "labelExpr": "datum.value % 20 == 0 ? datum.value + '%' : ''", "tickColor": {"condition": {"test": "datum.value % 20 == 0", "value": "#000"}, "value": "transparent"}, "title": null, "gridColor": {"condition": {"test": "datum.value % 20 == 0", "value": "#e5e5e5"}, "value": "#f5f5f5"}}},
   "color": {"field": "b", "type": "ordinal", "scale": {"range": ["#5e4fa2","#5b64a6","#5b82a0","#5f9e9f","#63bba2","#7dcaa4","#9cd69c","#bde59d","#d8ef9b","#e9f39a","#f1eb93","#f3e48a","#fde08b","#fed384","#fbb868","#f99e5c","#f68552","#ee6646","#e05043","#c8344a"]},
    "legend": {"orient": "none", "legendX": 849, "legendY": 807.5, "direction": "horizontal", "title": "Birth Year", "titleFontSize": 31, "titleFontWeight": "normal", "titleColor": "#000", "titleFont": "Liberation Sans", "titlePadding": 3, "columns": 4, "columnPadding": 2.3, "rowPadding": -4, "padding": 0, "symbolType": "M -1 -1 M 1 1 M -0.75 0 L 0.75 0 M 0.21 0 A 0.21 0.21 0 1 1 -0.21 0 A 0.21 0.21 0 1 1 0.21 0 Z", "symbolSize": 2304, "symbolStrokeWidth": 2, "labelFontSize": 13, "labelOffset": 3, "labelColor": "#000", "labelFont": "Liberation Sans",
     "encode": {"symbols": {"update": {"fill": {"scale": "color", "field": "value"}, "stroke": {"scale": "color", "field": "value"}, "opacity": {"value": 1}, "strokeWidth": {"value": 2}}}}}}}},
  {"mark": {"type": "circle", "size": 130, "opacity": 1}, "encoding": {"x": {"field": "a", "type": "quantitative"}, "y": {"field": "p", "type": "quantitative"}, "color": {"field": "b", "type": "ordinal"}}},
  {"mark": {"type": "point", "opacity": 0, "filled": false, "color": "#cccccc"}, "encoding": {"x": {"field": "a", "type": "quantitative"}, "y": {"field": "p", "type": "quantitative"},
   "shape": {"field": "b", "type": "ordinal", "scale": {"domain": [1910,1915,1920,1925,1930,1935,1940,1945,1950,1955,1960,1965,1970,1975,1980,1985,1990,1995,2000,2005], "range": ["square"]},
    "legend": {"orient": "none", "legendX": 849, "legendY": 807.5, "direction": "horizontal", "title": "Birth Year", "titleFontSize": 31, "titleFontWeight": "normal", "titleColor": "transparent", "titleFont": "Liberation Sans", "titlePadding": 3, "columns": 4, "columnPadding": 2.3, "rowPadding": -4, "padding": 0, "symbolType": "square", "symbolSize": 2304, "symbolStrokeWidth": 2, "symbolStrokeColor": "#cccccc", "symbolFillColor": "transparent", "labelFontSize": 13, "labelOffset": 3, "labelColor": "transparent", "labelFont": "Liberation Sans",
     "encode": {"symbols": {"update": {"fill": {"value": "transparent"}, "stroke": {"value": "#cccccc"}, "opacity": {"value": 1}, "strokeWidth": {"value": 2}, "shape": {"value": "square"}}}}}}}}
 ]}
]},
{"width": 389, "height": 359, "layer": [
 {"data": {"values": [{"title": "Central Europe, Eastern Europe, and Central Asia"}]}, "mark": {"type": "rect", "fill": "#cccccc", "stroke": "#7f7f7f", "strokeWidth": 1.2}, "encoding": {"x": {"datum": 6.5, "type": "quantitative"}, "x2": {"datum": 83.5}, "y": {"datum": 68.37, "type": "quantitative"}, "y2": {"datum": 76.742}}},
 {"data": {"values": [{"title": "Central Europe, Eastern Europe, and Central Asia"}]}, "mark": {"type": "text", "fontSize": 16, "color": "#1a1a1a", "baseline": "middle"}, "encoding": {"x": {"datum": 45, "type": "quantitative"}, "y": {"datum": 72.556, "type": "quantitative"}, "text": {"field": "title"}}},
 {"transform": [{"filter": "datum.r == 2"}], "layer": [
  {"mark": {"type": "line", "strokeWidth": 2.4}, "encoding": {
   "x": {"field": "a", "type": "quantitative", "scale": {"domain": [6.5, 83.5], "nice": false, "zero": false}, "axis": {"values": [10,20,30,40,50,60,70,80], "labels": false, "ticks": false, "title": null, "gridColor": {"condition": {"test": "datum.value % 20 == 0", "value": "#e5e5e5"}, "value": "#f5f5f5"}}},
   "y": {"field": "p", "type": "quantitative", "scale": {"domain": [-3.19, 68.37], "nice": false, "zero": false}, "axis": {"values": [0,10,20,30,40,50,60], "labels": false, "ticks": false, "title": null, "gridColor": {"condition": {"test": "datum.value % 20 == 0", "value": "#e5e5e5"}, "value": "#f5f5f5"}}},
   "color": {"field": "b", "type": "ordinal"}}},
  {"mark": {"type": "circle", "size": 130, "opacity": 1}, "encoding": {"x": {"field": "a", "type": "quantitative"}, "y": {"field": "p", "type": "quantitative"}, "color": {"field": "b", "type": "ordinal"}}}
 ]}
]},
{"width": 389, "height": 359, "layer": [
 {"data": {"values": [{"title": "High−income"}]}, "mark": {"type": "rect", "fill": "#cccccc", "stroke": "#7f7f7f", "strokeWidth": 1.2}, "encoding": {"x": {"datum": 6.5, "type": "quantitative"}, "x2": {"datum": 83.5}, "y": {"datum": 68.37, "type": "quantitative"}, "y2": {"datum": 76.742}}},
 {"data": {"values": [{"title": "High−income"}]}, "mark": {"type": "text", "fontSize": 16, "color": "#1a1a1a", "baseline": "middle"}, "encoding": {"x": {"datum": 45, "type": "quantitative"}, "y": {"datum": 72.556, "type": "quantitative"}, "text": {"field": "title"}}},
 {"transform": [{"filter": "datum.r == 3"}], "layer": [
  {"mark": {"type": "line", "strokeWidth": 2.4}, "encoding": {
   "x": {"field": "a", "type": "quantitative", "scale": {"domain": [6.5, 83.5], "nice": false, "zero": false}, "axis": {"values": [10,20,30,40,50,60,70,80], "labels": false, "ticks": false, "title": null, "gridColor": {"condition": {"test": "datum.value % 20 == 0", "value": "#e5e5e5"}, "value": "#f5f5f5"}}},
   "y": {"field": "p", "type": "quantitative", "scale": {"domain": [-3.19, 68.37], "nice": false, "zero": false}, "axis": {"values": [0,10,20,30,40,50,60], "labels": false, "ticks": false, "title": null, "gridColor": {"condition": {"test": "datum.value % 20 == 0", "value": "#e5e5e5"}, "value": "#f5f5f5"}}},
   "color": {"field": "b", "type": "ordinal"}}},
  {"mark": {"type": "circle", "size": 130, "opacity": 1}, "encoding": {"x": {"field": "a", "type": "quantitative"}, "y": {"field": "p", "type": "quantitative"}, "color": {"field": "b", "type": "ordinal"}}}
 ]}
]},
{"width": 389, "height": 359, "layer": [
 {"data": {"values": [{"title": "Latin America and Caribbean"}]}, "mark": {"type": "rect", "fill": "#cccccc", "stroke": "#7f7f7f", "strokeWidth": 1.2}, "encoding": {"x": {"datum": 6.5, "type": "quantitative"}, "x2": {"datum": 83.5}, "y": {"datum": 68.37, "type": "quantitative"}, "y2": {"datum": 76.742}}},
 {"data": {"values": [{"title": "Latin America and Caribbean"}]}, "mark": {"type": "text", "fontSize": 16, "color": "#1a1a1a", "baseline": "middle"}, "encoding": {"x": {"datum": 45, "type": "quantitative"}, "y": {"datum": 72.556, "type": "quantitative"}, "text": {"field": "title"}}},
 {"transform": [{"filter": "datum.r == 4"}], "layer": [
  {"mark": {"type": "line", "strokeWidth": 2.4}, "encoding": {
   "x": {"field": "a", "type": "quantitative", "scale": {"domain": [6.5, 83.5], "nice": false, "zero": false}, "axis": {"values": [10,20,30,40,50,60,70,80], "labels": false, "ticks": false, "title": null, "gridColor": {"condition": {"test": "datum.value % 20 == 0", "value": "#e5e5e5"}, "value": "#f5f5f5"}}},
   "y": {"field": "p", "type": "quantitative", "scale": {"domain": [-3.19, 68.37], "nice": false, "zero": false}, "axis": {"values": [0,10,20,30,40,50,60], "labelExpr": "datum.value % 20 == 0 ? datum.value + '%' : ''", "tickColor": {"condition": {"test": "datum.value % 20 == 0", "value": "#000"}, "value": "transparent"}, "title": "Smoking Prevalence", "gridColor": {"condition": {"test": "datum.value % 20 == 0", "value": "#e5e5e5"}, "value": "#f5f5f5"}}},
   "color": {"field": "b", "type": "ordinal"}}},
  {"mark": {"type": "circle", "size": 130, "opacity": 1}, "encoding": {"x": {"field": "a", "type": "quantitative"}, "y": {"field": "p", "type": "quantitative"}, "color": {"field": "b", "type": "ordinal"}}}
 ]}
]},
{"width": 389, "height": 359, "layer": [
 {"data": {"values": [{"title": "North Africa and Middle East"}]}, "mark": {"type": "rect", "fill": "#cccccc", "stroke": "#7f7f7f", "strokeWidth": 1.2}, "encoding": {"x": {"datum": 6.5, "type": "quantitative"}, "x2": {"datum": 83.5}, "y": {"datum": 68.37, "type": "quantitative"}, "y2": {"datum": 76.742}}},
 {"data": {"values": [{"title": "North Africa and Middle East"}]}, "mark": {"type": "text", "fontSize": 16, "color": "#1a1a1a", "baseline": "middle"}, "encoding": {"x": {"datum": 45, "type": "quantitative"}, "y": {"datum": 72.556, "type": "quantitative"}, "text": {"field": "title"}}},
 {"transform": [{"filter": "datum.r == 5"}], "layer": [
  {"mark": {"type": "line", "strokeWidth": 2.4}, "encoding": {
   "x": {"field": "a", "type": "quantitative", "scale": {"domain": [6.5, 83.5], "nice": false, "zero": false}, "axis": {"values": [10,20,30,40,50,60,70,80], "labels": false, "ticks": false, "title": null, "gridColor": {"condition": {"test": "datum.value % 20 == 0", "value": "#e5e5e5"}, "value": "#f5f5f5"}}},
   "y": {"field": "p", "type": "quantitative", "scale": {"domain": [-3.19, 68.37], "nice": false, "zero": false}, "axis": {"values": [0,10,20,30,40,50,60], "labels": false, "ticks": false, "title": null, "gridColor": {"condition": {"test": "datum.value % 20 == 0", "value": "#e5e5e5"}, "value": "#f5f5f5"}}},
   "color": {"field": "b", "type": "ordinal"}}},
  {"mark": {"type": "circle", "size": 130, "opacity": 1}, "encoding": {"x": {"field": "a", "type": "quantitative"}, "y": {"field": "p", "type": "quantitative"}, "color": {"field": "b", "type": "ordinal"}}}
 ]}
]},
{"width": 389, "height": 359, "layer": [
 {"data": {"values": [{"title": "South Asia"}]}, "mark": {"type": "rect", "fill": "#cccccc", "stroke": "#7f7f7f", "strokeWidth": 1.2}, "encoding": {"x": {"datum": 6.5, "type": "quantitative"}, "x2": {"datum": 83.5}, "y": {"datum": 68.37, "type": "quantitative"}, "y2": {"datum": 76.742}}},
 {"data": {"values": [{"title": "South Asia"}]}, "mark": {"type": "text", "fontSize": 16, "color": "#1a1a1a", "baseline": "middle"}, "encoding": {"x": {"datum": 45, "type": "quantitative"}, "y": {"datum": 72.556, "type": "quantitative"}, "text": {"field": "title"}}},
 {"transform": [{"filter": "datum.r == 6"}], "layer": [
  {"mark": {"type": "line", "strokeWidth": 2.4}, "encoding": {
   "x": {"field": "a", "type": "quantitative", "scale": {"domain": [6.5, 83.5], "nice": false, "zero": false}, "axis": {"values": [10,20,30,40,50,60,70,80], "labels": false, "ticks": false, "title": null, "gridColor": {"condition": {"test": "datum.value % 20 == 0", "value": "#e5e5e5"}, "value": "#f5f5f5"}}},
   "y": {"field": "p", "type": "quantitative", "scale": {"domain": [-3.19, 68.37], "nice": false, "zero": false}, "axis": {"values": [0,10,20,30,40,50,60], "labels": false, "ticks": false, "title": null, "gridColor": {"condition": {"test": "datum.value % 20 == 0", "value": "#e5e5e5"}, "value": "#f5f5f5"}}},
   "color": {"field": "b", "type": "ordinal"}}},
  {"mark": {"type": "circle", "size": 130, "opacity": 1}, "encoding": {"x": {"field": "a", "type": "quantitative"}, "y": {"field": "p", "type": "quantitative"}, "color": {"field": "b", "type": "ordinal"}}}
 ]}
]},
{"width": 389, "height": 359, "layer": [
 {"data": {"values": [{"title": "Southeast Asia, East Asia, and Oceania"}]}, "mark": {"type": "rect", "fill": "#cccccc", "stroke": "#7f7f7f", "strokeWidth": 1.2}, "encoding": {"x": {"datum": 6.5, "type": "quantitative"}, "x2": {"datum": 83.5}, "y": {"datum": 68.37, "type": "quantitative"}, "y2": {"datum": 76.742}}},
 {"data": {"values": [{"title": "Southeast Asia, East Asia, and Oceania"}]}, "mark": {"type": "text", "fontSize": 16, "color": "#1a1a1a", "baseline": "middle"}, "encoding": {"x": {"datum": 45, "type": "quantitative"}, "y": {"datum": 72.556, "type": "quantitative"}, "text": {"field": "title"}}},
 {"transform": [{"filter": "datum.r == 7"}], "layer": [
  {"mark": {"type": "line", "strokeWidth": 2.4}, "encoding": {
   "x": {"field": "a", "type": "quantitative", "scale": {"domain": [6.5, 83.5], "nice": false, "zero": false}, "axis": {"values": [10,20,30,40,50,60,70,80], "labelExpr": "datum.value % 20 == 0 ? datum.label : ''", "tickColor": {"condition": {"test": "datum.value % 20 == 0", "value": "#000"}, "value": "transparent"}, "title": null, "gridColor": {"condition": {"test": "datum.value % 20 == 0", "value": "#e5e5e5"}, "value": "#f5f5f5"}}},
   "y": {"field": "p", "type": "quantitative", "scale": {"domain": [-3.19, 68.37], "nice": false, "zero": false}, "axis": {"values": [0,10,20,30,40,50,60], "labelExpr": "datum.value % 20 == 0 ? datum.value + '%' : ''", "tickColor": {"condition": {"test": "datum.value % 20 == 0", "value": "#000"}, "value": "transparent"}, "title": null, "gridColor": {"condition": {"test": "datum.value % 20 == 0", "value": "#e5e5e5"}, "value": "#f5f5f5"}}},
   "color": {"field": "b", "type": "ordinal"}}},
  {"mark": {"type": "circle", "size": 130, "opacity": 1}, "encoding": {"x": {"field": "a", "type": "quantitative"}, "y": {"field": "p", "type": "quantitative"}, "color": {"field": "b", "type": "ordinal"}}}
 ]}
]},
{"width": 389, "height": 359, "layer": [
 {"data": {"values": [{"title": "Sub−Saharan Africa"}]}, "mark": {"type": "rect", "fill": "#cccccc", "stroke": "#7f7f7f", "strokeWidth": 1.2}, "encoding": {"x": {"datum": 6.5, "type": "quantitative"}, "x2": {"datum": 83.5}, "y": {"datum": 68.37, "type": "quantitative"}, "y2": {"datum": 76.742}}},
 {"data": {"values": [{"title": "Sub−Saharan Africa"}]}, "mark": {"type": "text", "fontSize": 16, "color": "#1a1a1a", "baseline": "middle"}, "encoding": {"x": {"datum": 45, "type": "quantitative"}, "y": {"datum": 72.556, "type": "quantitative"}, "text": {"field": "title"}}},
 {"data": {"values": [{"note": "18"}]}, "mark": {"type": "text", "fontSize": 20, "color": "#000", "baseline": "alphabetic"}, "encoding": {"x": {"datum": 34.2, "type": "quantitative"}, "y": {"datum": -6.18, "type": "quantitative"}, "text": {"field": "note"}}},
 {"transform": [{"filter": "datum.r == 8"}], "layer": [
  {"mark": {"type": "line", "strokeWidth": 2.4}, "encoding": {
   "x": {"field": "a", "type": "quantitative", "scale": {"domain": [6.5, 83.5], "nice": false, "zero": false}, "axis": {"values": [10,20,30,40,50,60,70,80], "labelExpr": "datum.value % 20 == 0 ? datum.label : ''", "tickColor": {"condition": {"test": "datum.value % 20 == 0", "value": "#000"}, "value": "transparent"}, "title": "Age", "gridColor": {"condition": {"test": "datum.value % 20 == 0", "value": "#e5e5e5"}, "value": "#f5f5f5"}}},
   "y": {"field": "p", "type": "quantitative", "scale": {"domain": [-3.19, 68.37], "nice": false, "zero": false}, "axis": {"values": [0,10,20,30,40,50,60], "labels": false, "ticks": false, "title": null, "gridColor": {"condition": {"test": "datum.value % 20 == 0", "value": "#e5e5e5"}, "value": "#f5f5f5"}}},
   "color": {"field": "b", "type": "ordinal"}}},
  {"mark": {"type": "circle", "size": 130, "opacity": 1}, "encoding": {"x": {"field": "a", "type": "quantitative"}, "y": {"field": "p", "type": "quantitative"}, "color": {"field": "b", "type": "ordinal"}}}
 ]}
]}
]
}
